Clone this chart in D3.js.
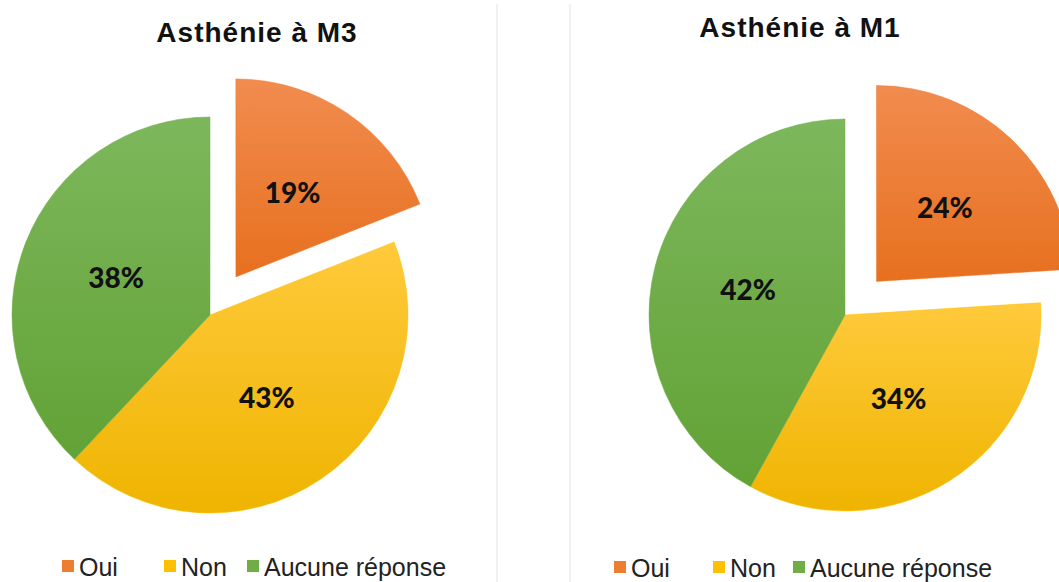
<!DOCTYPE html>
<html>
<head>
<meta charset="utf-8">
<script src="https://cdn.jsdelivr.net/npm/d3@7"></script>
<style>
  body { margin: 0; background: #fff; }
  svg { display: block; }
  .title { font-family: "Liberation Sans", Arial, sans-serif; font-weight: bold; font-size: 28px; fill: #111; }
  .sliceLabel { font-family: Lato, "Open Sans", sans-serif; font-weight: 900; font-size: 28px; fill: #111; }
  .legendText { font-family: "Liberation Sans", Arial, sans-serif; font-size: 25px; fill: #222; }
</style>
</head>
<body>
<svg id="chart"></svg>
<script>
// data
const categories = ['Oui', 'Non', 'Aucune réponse'];
const valuesM3 = [19, 43, 38];
const valuesM1 = [24, 34, 42];
const titles = ['Asthénie à M3', 'Asthénie à M1'];
const exploded = ['Oui'];

// colours (top / bottom of the slice gradient)
const colors = ['#ED7D31', '#FFC000', '#70AD47'];
const colorsTop = ['#F18C4F', '#FFCA3C', '#7DB75C'];
const colorsBottom = ['#E7701F', '#EFB400', '#62A235'];

const width = 1059, height = 582;

// one panel per chart
const panels = [
  {title: titles[0], values: valuesM3, cx: 210, cy: 315, r: 198, explode: 46, titleX: 257, titleY: 42,
   legendX: 62, legendY: 576, legendOffsets: [0, 102, 185], divider: 497},
  {title: titles[1], values: valuesM1, cx: 845, cy: 315, r: 196, explode: 46, titleX: 800, titleY: 37,
   legendX: 614, legendY: 577, legendOffsets: [0, 99, 179], divider: 570}
];

const svg = d3.select('#chart')
  .attr('width', width)
  .attr('height', height);

const defs = svg.append('defs');
categories.forEach(function(c, i) {
  const g = defs.append('linearGradient')
    .attr('id', 'grad' + i)
    .attr('x1', 0).attr('y1', 0).attr('x2', 0).attr('y2', 1);
  g.append('stop').attr('offset', '0%').attr('stop-color', colorsTop[i]);
  g.append('stop').attr('offset', '100%').attr('stop-color', colorsBottom[i]);
});

const color = d3.scaleOrdinal().domain(categories).range(colors);

const pie = d3.pie()
  .sort(null)
  .value(d => d.value);

panels.forEach(function(p) {
  // divider line between the two panels
  svg.append('line')
    .attr('x1', p.divider).attr('x2', p.divider)
    .attr('y1', 4).attr('y2', height)
    .attr('stroke', '#e2e2e2')
    .attr('stroke-width', 1);

  svg.append('text')
    .attr('class', 'title')
    .attr('x', p.titleX)
    .attr('y', p.titleY)
    .attr('text-anchor', 'middle')
    .style('letter-spacing', '1px')
    .text(p.title);

  const data = categories.map((c, i) => ({cat: c, idx: i, value: p.values[i]}));
  const arcs = pie(data);

  const arc = d3.arc().innerRadius(0).outerRadius(p.r);
  const labelArc = d3.arc().innerRadius(0).outerRadius(p.r * 1.02);

  const g = svg.append('g')
    .attr('transform', 'translate(' + p.cx + ',' + p.cy + ')');

  const slices = g.selectAll('.slice')
    .data(arcs)
    .enter()
    .append('g')
    .attr('class', 'slice')
    .attr('transform', function(d) {
      if (exploded.indexOf(d.data.cat) < 0) return null;
      const mid = (d.startAngle + d.endAngle) / 2;
      return 'translate(' + (Math.sin(mid) * p.explode) + ',' + (-Math.cos(mid) * p.explode) + ')';
    });

  slices.append('path')
    .attr('d', arc)
    .attr('fill', d => 'url(#grad' + d.data.idx + ')')
    .attr('stroke', d => color(d.data.cat))
    .attr('stroke-width', 0.5);

  slices.append('text')
    .attr('class', 'sliceLabel')
    .attr('transform', d => 'translate(' + labelArc.centroid(d) + ')')
    .attr('text-anchor', 'middle')
    .attr('dy', '0.35em')
    .text(d => d.data.value + '%');

  // legend
  const lg = svg.append('g')
    .attr('transform', 'translate(' + p.legendX + ',' + p.legendY + ')');
  const items = lg.selectAll('.legendItem')
    .data(categories)
    .enter()
    .append('g')
    .attr('class', 'legendItem')
    .attr('transform', (d, i) => 'translate(' + p.legendOffsets[i] + ',0)');
  items.append('rect')
    .attr('x', 0).attr('y', -16)
    .attr('width', 12).attr('height', 12)
    .attr('fill', d => color(d));
  items.append('text')
    .attr('class', 'legendText')
    .attr('x', 17)
    .attr('y', 0)
    .text(d => d);
});
</script>
</body>
</html>
